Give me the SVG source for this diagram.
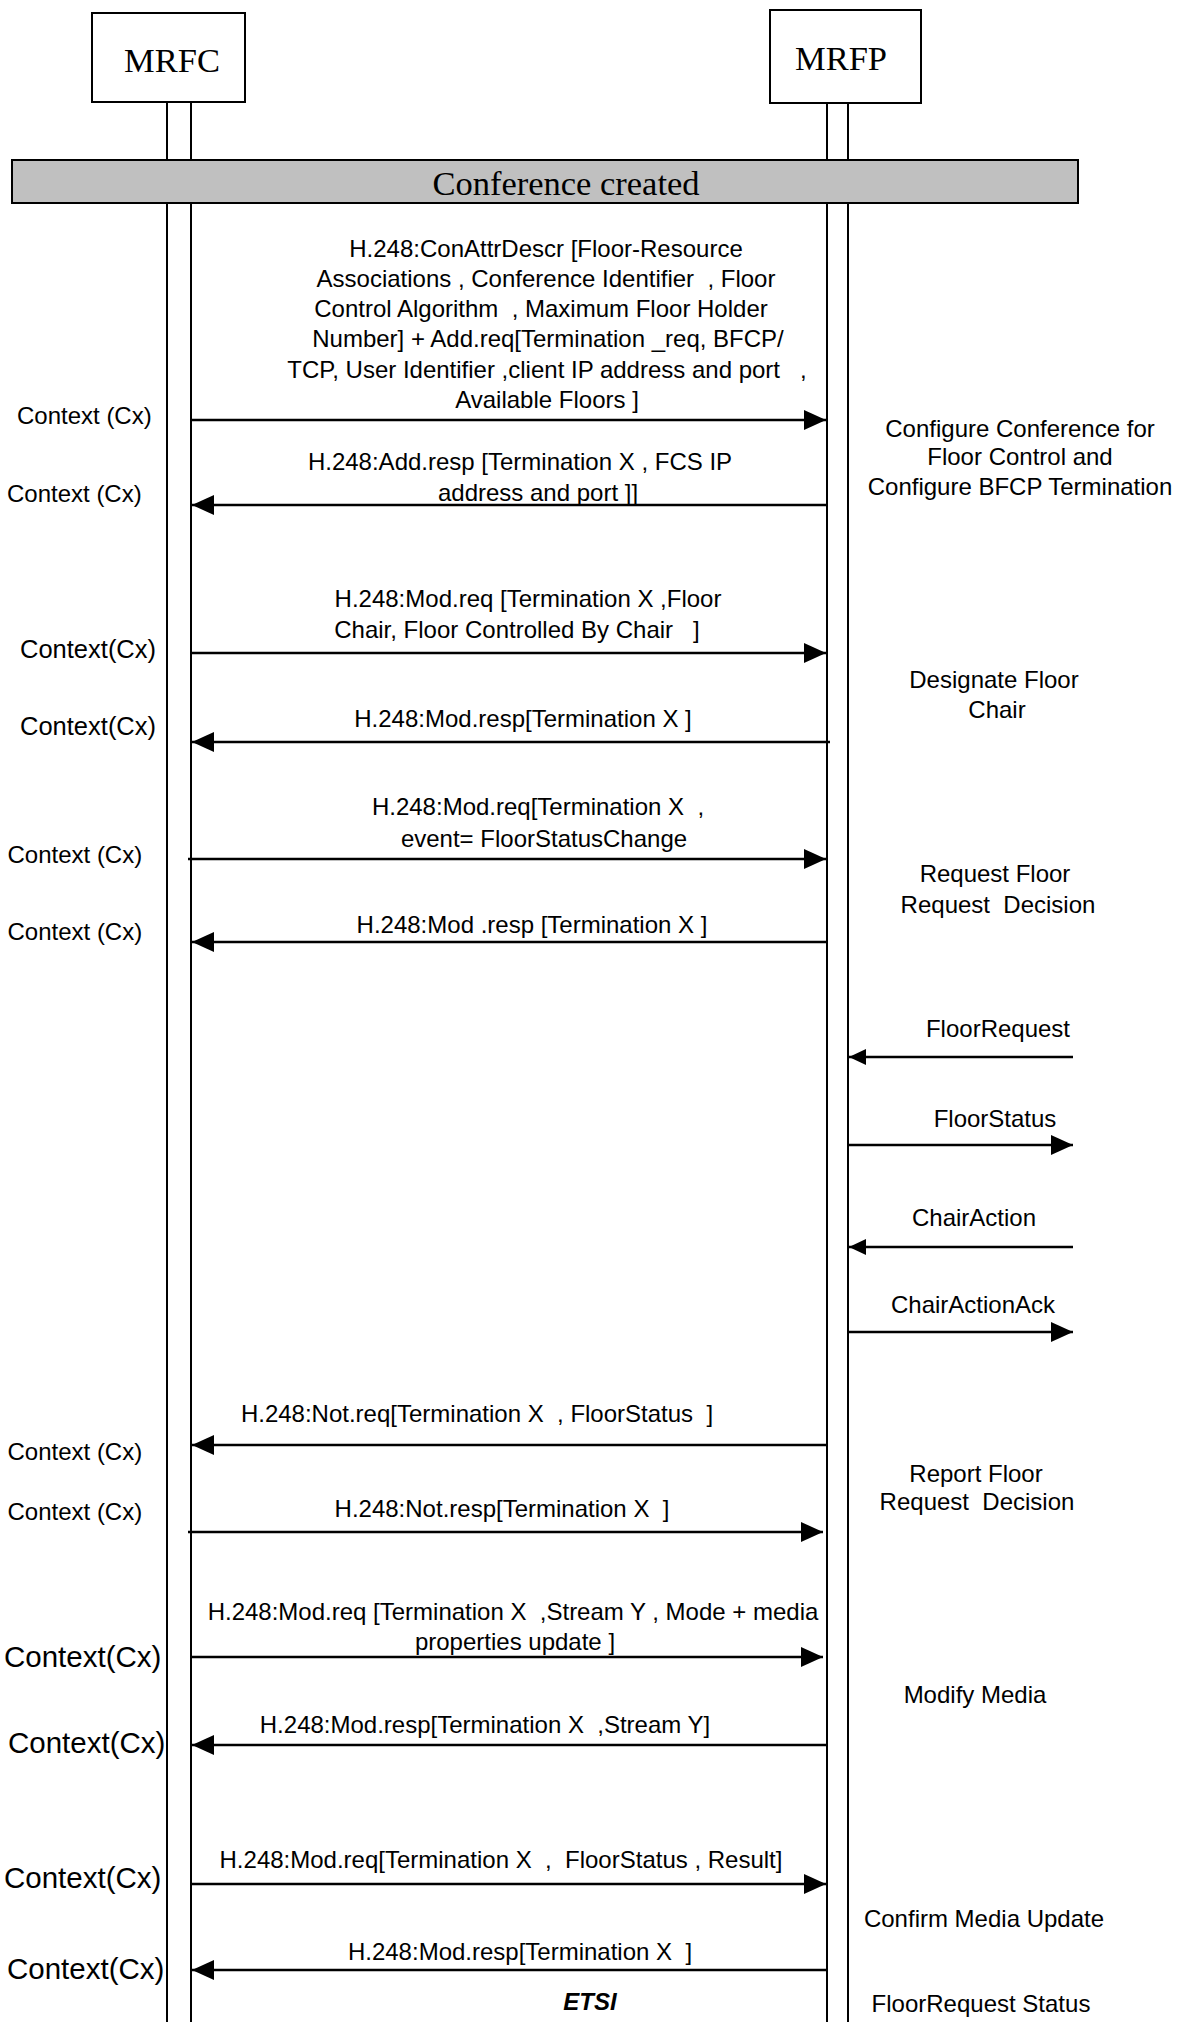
<svg xmlns="http://www.w3.org/2000/svg" width="1181" height="2022" viewBox="0 0 1181 2022">
<style>
.box{fill:#fff;stroke:#000;stroke-width:2}
.life{stroke:#000;stroke-width:2;fill:none}
.msg{stroke:#000;stroke-width:2.5;fill:none}
.t{font-family:"Liberation Sans",Arial,sans-serif;font-size:24px;fill:#000;white-space:pre}
.m{text-anchor:middle}
.serif{font-family:"Liberation Serif","Times New Roman",serif;fill:#000;font-size:34.5px}
.cx{font-size:29.5px}
.cm{font-size:25.5px}
</style>
<defs>
<marker id="ah" markerUnits="userSpaceOnUse" markerWidth="22" markerHeight="20" refX="22" refY="10" orient="auto"><path d="M0,0 L22,10 L0,20 z" fill="#000"/></marker>
<marker id="ahs" markerUnits="userSpaceOnUse" markerWidth="17" markerHeight="16" refX="17" refY="8" orient="auto"><path d="M0,0 L17,8 L0,16 z" fill="#000"/></marker>
</defs>
<rect width="1181" height="2022" fill="#fff"/>
<g id="lifelines">
<line class="life" x1="167" y1="102" x2="167" y2="2022"/>
<line class="life" x1="191" y1="102" x2="191" y2="2022"/>
<line class="life" x1="827" y1="103" x2="827" y2="2022"/>
<line class="life" x1="848" y1="103" x2="848" y2="2022"/>
</g>
<g id="MRFC">
<rect class="box" x="92" y="13" width="153" height="89"/>
<text class="serif" x="172" y="72" text-anchor="middle">MRFC</text>
</g>
<g id="MRFP">
<rect class="box" x="770" y="10" width="151" height="93"/>
<text class="serif" x="841" y="69.5" text-anchor="middle">MRFP</text>
</g>
<g id="conference-created">
<rect x="12" y="160" width="1066" height="43" fill="#c0c0c0" stroke="#000" stroke-width="2"/>
<text class="serif" x="566" y="195" text-anchor="middle">Conference created</text>
</g>
<g id="connectors">
<line class="msg" x1="192" y1="420" x2="826" y2="420" marker-end="url(#ah)"/>
<line class="msg" x1="826" y1="505" x2="192" y2="505" marker-end="url(#ah)"/>
<line class="msg" x1="192" y1="653" x2="826" y2="653" marker-end="url(#ah)"/>
<line class="msg" x1="830" y1="742" x2="192" y2="742" marker-end="url(#ah)"/>
<line class="msg" x1="188" y1="859" x2="826" y2="859" marker-end="url(#ah)"/>
<line class="msg" x1="826" y1="942" x2="192" y2="942" marker-end="url(#ah)"/>
<line class="msg" x1="1073" y1="1057" x2="849" y2="1057" marker-end="url(#ahs)"/>
<line class="msg" x1="849" y1="1145" x2="1073" y2="1145" marker-end="url(#ah)"/>
<line class="msg" x1="1073" y1="1247" x2="849" y2="1247" marker-end="url(#ahs)"/>
<line class="msg" x1="849" y1="1332" x2="1073" y2="1332" marker-end="url(#ah)"/>
<line class="msg" x1="826" y1="1445" x2="192" y2="1445" marker-end="url(#ah)"/>
<line class="msg" x1="188" y1="1532" x2="823" y2="1532" marker-end="url(#ah)"/>
<line class="msg" x1="192" y1="1657" x2="823" y2="1657" marker-end="url(#ah)"/>
<line class="msg" x1="826" y1="1745" x2="192" y2="1745" marker-end="url(#ah)"/>
<line class="msg" x1="192" y1="1884" x2="826" y2="1884" marker-end="url(#ah)"/>
<line class="msg" x1="826" y1="1970" x2="192" y2="1970" marker-end="url(#ah)"/>
</g>
<g id="message-labels">
<text class="t m" x="546" y="256.5">H.248:ConAttrDescr [Floor-Resource</text>
<text class="t m" x="546" y="287">Associations , Conference Identifier  , Floor</text>
<text class="t m" x="541" y="316.5">Control Algorithm  , Maximum Floor Holder</text>
<text class="t m" x="548" y="347">Number] + Add.req[Termination _req, BFCP/</text>
<text class="t m" x="547" y="377.5">TCP, User Identifier ,client IP address and port   ,</text>
<text class="t m" x="547" y="408">Available Floors ]</text>
<text class="t m" x="520" y="470">H.248:Add.resp [Termination X , FCS IP</text>
<text class="t m" x="538" y="501">address and port ]]</text>
<text class="t m" x="528" y="607">H.248:Mod.req [Termination X ,Floor</text>
<text class="t m" x="517" y="638">Chair, Floor Controlled By Chair   ]</text>
<text class="t m" x="523" y="727">H.248:Mod.resp[Termination X ]</text>
<text class="t m" x="538" y="815">H.248:Mod.req[Termination X  ,</text>
<text class="t m" x="544" y="847">event= FloorStatusChange</text>
<text class="t m" x="532" y="933">H.248:Mod .resp [Termination X ]</text>
<text class="t m" x="998" y="1037">FloorRequest</text>
<text class="t m" x="995" y="1127">FloorStatus</text>
<text class="t m" x="974" y="1226">ChairAction</text>
<text class="t m" x="973" y="1313">ChairActionAck</text>
<text class="t m" x="477" y="1422">H.248:Not.req[Termination X  , FloorStatus  ]</text>
<text class="t m" x="502" y="1517">H.248:Not.resp[Termination X  ]</text>
<text class="t m" x="513" y="1620">H.248:Mod.req [Termination X  ,Stream Y , Mode + media</text>
<text class="t m" x="515" y="1650">properties update ]</text>
<text class="t m" x="485" y="1733">H.248:Mod.resp[Termination X  ,Stream Y]</text>
<text class="t m" x="501" y="1868">H.248:Mod.req[Termination X  ,  FloorStatus , Result]</text>
<text class="t m" x="520" y="1960">H.248:Mod.resp[Termination X  ]</text>
</g>
<g id="context-labels">
<text class="t" x="17" y="424">Context (Cx)</text>
<text class="t" x="7" y="502">Context (Cx)</text>
<text class="t cm" x="20" y="658">Context(Cx)</text>
<text class="t cm" x="20" y="735">Context(Cx)</text>
<text class="t" x="7.5" y="863">Context (Cx)</text>
<text class="t" x="7.5" y="940">Context (Cx)</text>
<text class="t" x="7.5" y="1460">Context (Cx)</text>
<text class="t" x="7.5" y="1520">Context (Cx)</text>
<text class="t cx" x="4" y="1667">Context(Cx)</text>
<text class="t cx" x="8" y="1753">Context(Cx)</text>
<text class="t cx" x="4" y="1888">Context(Cx)</text>
<text class="t cx" x="7" y="1979">Context(Cx)</text>
</g>
<g id="phase-labels">
<text class="t m" x="1020" y="436.5">Configure Conference for</text>
<text class="t m" x="1020" y="464.5">Floor Control and</text>
<text class="t m" x="1020" y="494.5">Configure BFCP Termination</text>
<text class="t m" x="994" y="688">Designate Floor</text>
<text class="t m" x="997" y="718">Chair</text>
<text class="t m" x="995" y="882">Request Floor</text>
<text class="t m" x="998" y="913">Request  Decision</text>
<text class="t m" x="976" y="1482">Report Floor</text>
<text class="t m" x="977" y="1510">Request  Decision</text>
<text class="t m" x="975" y="1703">Modify Media</text>
<text class="t m" x="984" y="1927">Confirm Media Update</text>
<text class="t m" x="981" y="2012">FloorRequest Status</text>
</g>
<text class="t m" x="590" y="2010" font-weight="bold" font-style="italic" font-size="23">ETSI</text>
</svg>
